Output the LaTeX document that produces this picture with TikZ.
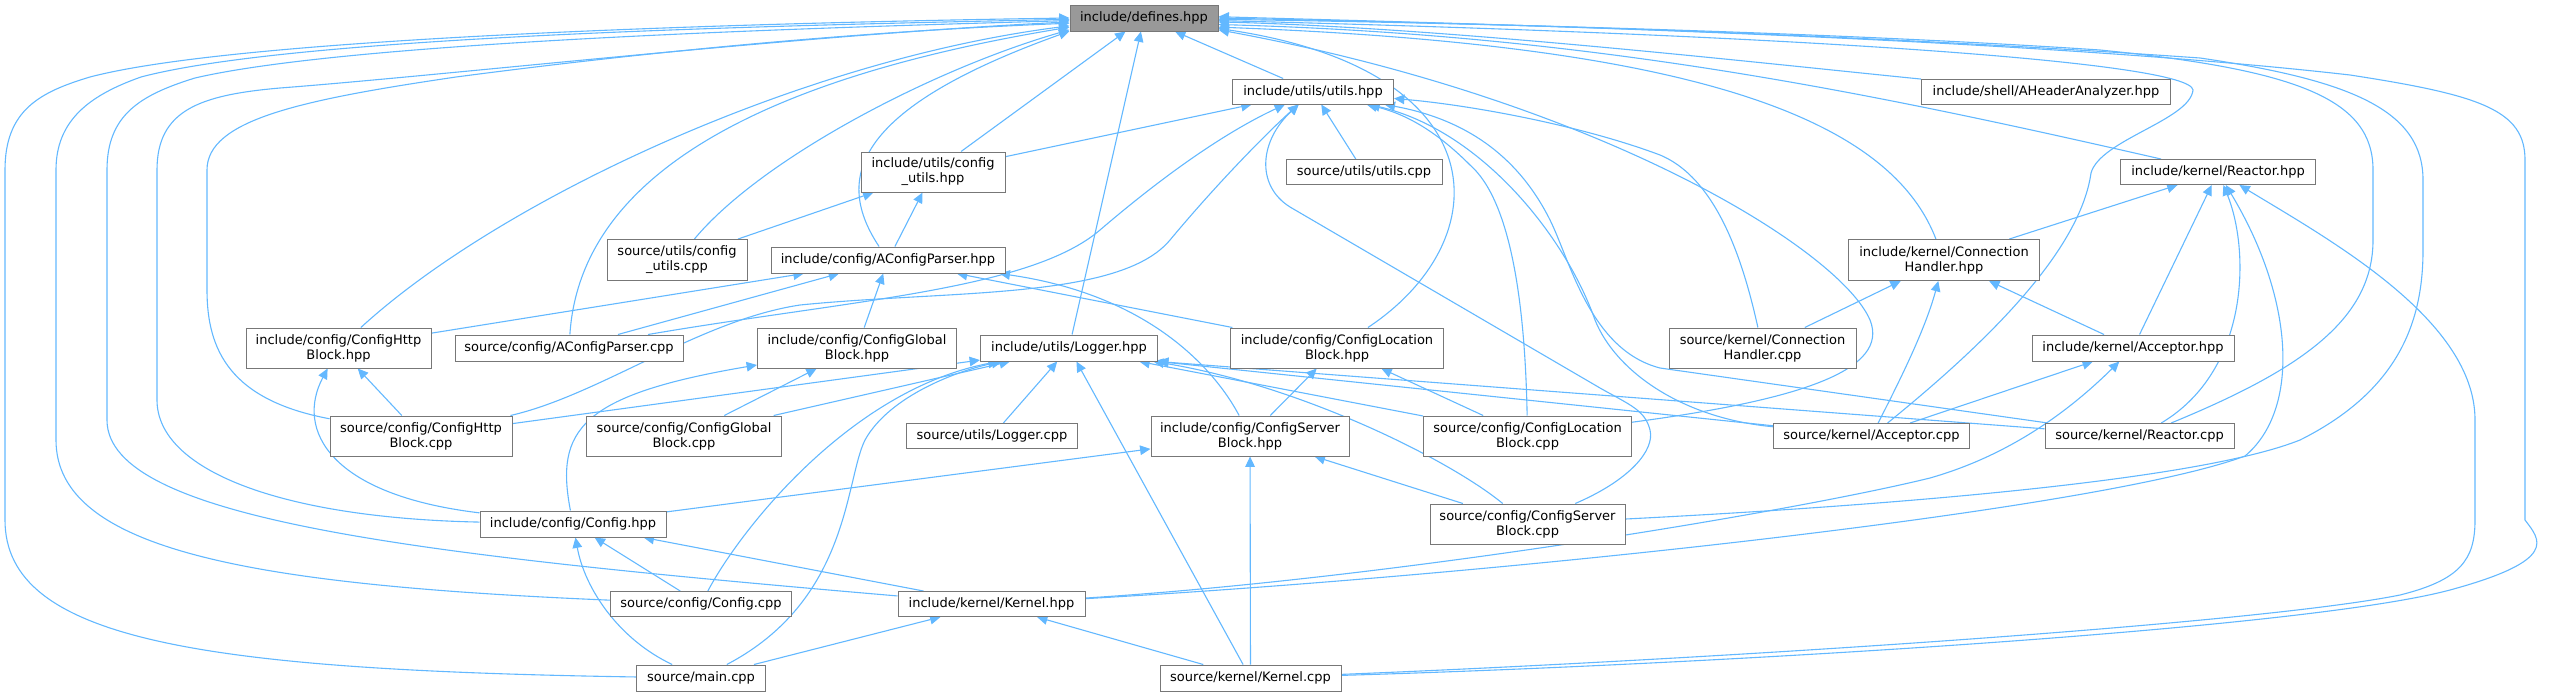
\documentclass[tikz,border=0pt]{standalone}
\usepackage{fontspec}
\setmainfont{DejaVu Sans}
\usetikzlibrary{arrows.meta}
\definecolor{edgeblue}{HTML}{63B8FF}
\definecolor{nodeline}{HTML}{777777}
\definecolor{rootfill}{HTML}{999999}
\pgfdeclarelayer{background}
\pgfsetlayers{background,main}
\tikzset{
  box/.style={draw=nodeline, line width=0.5pt, fill=white, inner sep=0pt, align=center, font=\fontsize{6.5pt}{7.5pt}\selectfont},
  rootbox/.style={box, fill=rootfill},
  dep/.style={draw=edgeblue, line width=0.55pt, -{Triangle[length=5.2pt,width=4.8pt]}},
}
\newcommand\gnode[7][box]{\node[#1, minimum width=#5*0.5pt, minimum height=#6*0.5pt] (#2) at (#3,#4) {#7};}
\begin{document}
\begin{tikzpicture}[x=0.5pt,y=-0.5pt]
\useasboundingbox (0,0) rectangle (2563,696);
\gnode[rootbox]{def}{1144}{18}{148}{26}{include/defines.hpp}
\gnode{uh}{1313}{91.5}{161}{25}{include/utils/utils.hpp}
\gnode{ah}{2046}{91.5}{249}{25}{include/shell/AHeaderAnalyzer.hpp}
\gnode{cuh}{933}{172}{144}{40}{include/utils/config\\\_utils.hpp}
\gnode{ucpp}{1364}{172}{156}{25}{source/utils/utils.cpp}
\gnode{rh}{2218}{172}{195}{25}{include/kernel/Reactor.hpp}
\gnode{cucpp}{677}{260}{140}{41}{source/utils/config\\\_utils.cpp}
\gnode{acph}{888}{260}{234}{26}{include/config/AConfigParser.hpp}
\gnode{chh}{1944}{260}{191}{41}{include/kernel/Connection\\Handler.hpp}
\gnode{hth}{338.5}{348}{185}{40}{include/config/ConfigHttp\\Block.hpp}
\gnode{acpc}{569}{348}{228}{26}{source/config/AConfigParser.cpp}
\gnode{glh}{857}{348}{199}{40}{include/config/ConfigGlobal\\Block.hpp}
\gnode{lgh}{1069}{348}{177}{26}{include/utils/Logger.hpp}
\gnode{loh}{1337}{348}{213}{40}{include/config/ConfigLocation\\Block.hpp}
\gnode{chc}{1762.5}{348}{187}{40}{source/kernel/Connection\\Handler.cpp}
\gnode{ach}{2133}{348}{202}{26}{include/kernel/Acceptor.hpp}
\gnode{htc}{421}{436}{182}{40}{source/config/ConfigHttp\\Block.cpp}
\gnode{glc}{684}{436}{195}{40}{source/config/ConfigGlobal\\Block.cpp}
\gnode{lgc}{992}{436}{171}{25}{source/utils/Logger.cpp}
\gnode{svh}{1250}{436}{198}{40}{include/config/ConfigServer\\Block.hpp}
\gnode{loc}{1527.5}{436}{208}{40}{source/config/ConfigLocation\\Block.cpp}
\gnode{acc}{1871.5}{436}{196}{25}{source/kernel/Acceptor.cpp}
\gnode{rc}{2139.5}{436}{189}{25}{source/kernel/Reactor.cpp}
\gnode{cfh}{573}{524}{186}{26}{include/config/Config.hpp}
\gnode{svc}{1527.5}{524}{195}{40}{source/config/ConfigServer\\Block.cpp}
\gnode{cfc}{701}{604}{181}{25}{source/config/Config.cpp}
\gnode{kh}{991.5}{604}{187}{25}{include/kernel/Kernel.hpp}
\gnode{mc}{701}{678}{129}{26}{source/main.cpp}
\gnode{kc}{1250.5}{678}{181}{26}{source/kernel/Kernel.cpp}
\begin{pgfonlayer}{background}
% ---- into defines.hpp, left side
\draw[dep] (mc) .. controls (200,670) and (5,640) .. (5,520) -- (5,170) .. controls (5,110) and (40,92) .. (90,77) .. controls (250,35) and (800,22) .. (def.180);
\draw[dep] (cfc) .. controls (250,585) and (56,550) .. (56,440) -- (56,170) .. controls (56,120) and (90,95) .. (141,77) .. controls (300,35) and (800,25) .. (def.181);
\draw[dep] (kh) .. controls (420,555) and (107,520) .. (107,420) -- (107,170) .. controls (107,115) and (140,95) .. (195,78) .. controls (350,42) and (800,28) .. (def.182);
\draw[dep] (cfh) .. controls (280,518) and (157,470) .. (157,400) -- (157,170) .. controls (157,110) and (200,95) .. (280,88) .. controls (450,75) and (800,35) .. (def.183);
\draw[dep] (htc) .. controls (230,400) and (207,350) .. (207,290) -- (207,170) .. controls (207,120) and (300,100) .. (456,77) .. controls (700,45) and (900,30) .. (def.184.5);
\draw[dep] (hth) .. controls (500,200) and (800,60) .. (def.186);
\draw[dep] (acpc) .. controls (580,180) and (750,80) .. (def.187.5);
\draw[dep] (cucpp) .. controls (760,160) and (930,70) .. (def.189);
\draw[dep] (acph) .. controls (835,180) and (850,110) .. (def.190);
\draw[dep] (cuh) -- (def);
\draw[dep] (lgh) -- (def);
\draw[dep] (uh) -- (def);
% ---- into defines.hpp, right side
\draw[dep] (ah) .. controls (1750,62) and (1450,28) .. (def.357);
\draw[dep] (rh) .. controls (1880,95) and (1600,35) .. (def.355);
\draw[dep] (chh) .. controls (1890,120) and (1700,45) .. (def.353);
\draw[dep] (loh) .. controls (1500,240) and (1500,70) .. (def.352);
\draw[dep] (loc) .. controls (1800,400) and (1890,370) .. (1870,320) .. controls (1840,250) and (1600,100) .. (def.351);
\draw[dep] (acc) .. controls (1990,340) and (2080,250) .. (2091,173) .. controls (2100,140) and (2190,120) .. (2193,90) .. controls (2190,62) and (1800,35) .. (def.358);
\draw[dep] (rc) .. controls (2300,370) and (2373,320) .. (2373,240) -- (2373,170) .. controls (2373,100) and (2300,70) .. (2100,50) .. controls (1800,30) and (1400,22) .. (def.359);
\draw[dep] (svc) .. controls (1900,505) and (2200,480) .. (2300,440) .. controls (2400,390) and (2423,320) .. (2423,250) -- (2423,180) .. controls (2423,110) and (2350,80) .. (2200,58) .. controls (1800,30) and (1400,22) .. (def.0);
\draw[dep] (kc) .. controls (1700,665) and (2300,630) .. (2450,590) .. controls (2560,560) and (2540,540) .. (2525,520) -- (2525,160) .. controls (2525,110) and (2480,95) .. (2350,75) .. controls (2000,35) and (1400,22) .. (def.1);
% ---- into utils.hpp
\draw[dep] (cuh) -- (uh);
\draw[dep] (ucpp) -- (uh);
\draw[dep] (acpc) .. controls (850,300) and (1030,290) .. (1100,230) .. controls (1170,170) and (1230,130) .. (uh);
\draw[dep] (htc) .. controls (600,395) and (700,320) .. (800,305) .. controls (950,290) and (1120,300) .. (1170,240) .. controls (1220,180) and (1270,130) .. (uh);
\draw[dep] (svc) .. controls (1630,480) and (1655,450) .. (1650,430) .. controls (1645,410) and (1630,405) .. (1600,388) -- (1290,207) .. controls (1255,185) and (1260,140) .. (uh);
\draw[dep] (loc) .. controls (1525,300) and (1510,200) .. (1470,165) .. controls (1440,135) and (1410,115) .. (uh);
\draw[dep] (acc) .. controls (1680,418) and (1615,370) .. (1595,320) .. controls (1565,235) and (1480,130) .. (uh);
\draw[dep] (rc) -- (1660,368) .. controls (1590,350) and (1570,260) .. (1550,220) .. controls (1520,160) and (1470,120) .. (uh);
\draw[dep] (chc) .. controls (1745,270) and (1720,180) .. (1660,155) .. controls (1580,125) and (1470,105) .. (uh);
% ---- config_utils.hpp, AConfigParser.hpp
\draw[dep] (acph) -- (cuh);
\draw[dep] (cucpp) -- (cuh);
\draw[dep] (hth) -- (acph);
\draw[dep] (acpc) -- (acph);
\draw[dep] (glh) -- (acph);
\draw[dep] (loh) -- (acph);
\draw[dep] (svh) .. controls (1215,370) and (1150,295) .. ([xshift=-3pt]acph.south east);
% ---- config headers
\draw[dep] (htc) -- (hth);
\draw[dep] (cfh) .. controls (330,495) and (295,430) .. (hth);
\draw[dep] (glc) -- (glh);
\draw[dep] (cfh) .. controls (555,430) and (580,395) .. (glh);
\draw[dep] (svh) -- (loh);
\draw[dep] (loc) -- (loh);
\draw[dep] (cfh) -- (svh);
\draw[dep] (svc) -- (svh);
\draw[dep] (kc) -- (svh);
\draw[dep] (cfc) -- (cfh);
\draw[dep] (mc) .. controls (620,640) and (585,590) .. (cfh);
\draw[dep] (kh) -- (cfh);
\draw[dep] (mc) -- (kh);
\draw[dep] (kc) -- (kh);
% ---- into Logger.hpp
\draw[dep] (htc) -- (lgh);
\draw[dep] (glc) -- (lgh);
\draw[dep] (cfc) .. controls (740,530) and (850,390) .. (lgh);
\draw[dep] (mc) .. controls (850,600) and (845,480) .. (865,440) .. controls (890,395) and (960,370) .. (lgh);
\draw[dep] (lgc) -- (lgh);
\draw[dep] (kc) -- (lgh);
\draw[dep] (loc) -- (lgh);
\draw[dep] (svc) .. controls (1450,460) and (1300,385) .. (lgh);
\draw[dep] (acc) -- (lgh.south east);
\draw[dep] (rc) -- (lgh.south east);
% ---- kernel
\draw[dep] (chc) -- (chh);
\draw[dep] (ach) -- (chh);
\draw[dep] (acc) .. controls (1900,380) and (1925,330) .. (chh);
\draw[dep] (acc) -- (ach);
\draw[dep] (kh) .. controls (1400,578) and (1800,510) .. (1930,478) .. controls (2000,458) and (2060,420) .. (ach);
\draw[dep] (chh) -- (rh);
\draw[dep] (ach) -- (rh);
\draw[dep] (rc) .. controls (2250,370) and (2250,250) .. (rh);
\draw[dep] (kh) .. controls (1500,575) and (2100,510) .. (2245,456) .. controls (2300,410) and (2295,300) .. (rh);
\draw[dep] (kc) .. controls (1700,660) and (2250,625) .. (2400,595) .. controls (2460,580) and (2475,560) .. (2475,520) -- (2475,420) .. controls (2475,320) and (2330,240) .. (rh);
\end{pgfonlayer}
\end{tikzpicture}
\end{document}
